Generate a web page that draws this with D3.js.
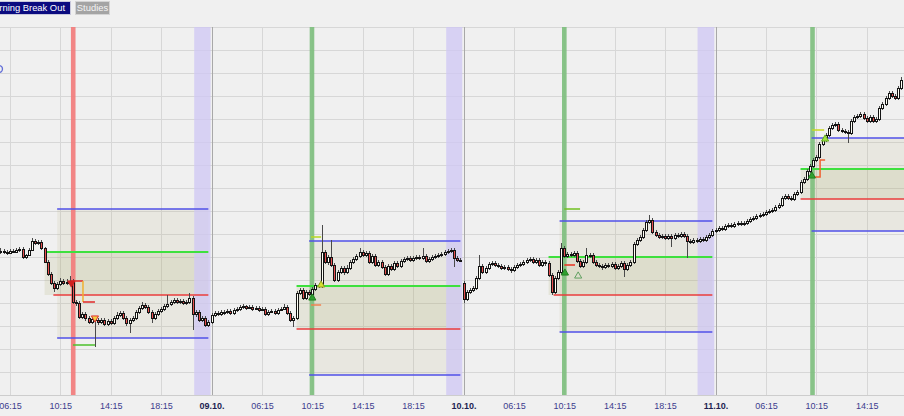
<!DOCTYPE html>
<html><head><meta charset="utf-8">
<script src="https://cdn.jsdelivr.net/npm/d3@7"></script>
<style>
html,body{margin:0;padding:0;background:#f0f0f0;overflow:hidden}
svg{display:block}
</style></head><body>
<svg id="c" width="904" height="416"></svg>
<script>
// ---- candle data (15-minute bars), price units ----
const open=[
148,149,148,147,149,148,150,151,143,145,
150,159,157,158,152,138,126,117,112,116,
119,117,118,119,98,97,83,86,82,78,
81,80,78,80,76,79,77,82,85,87,
82,77,80,82,88,92,95,93,88,82,
86,89,91,94,96,98,100,98,99,97,
98,102,86,88,80,82,75,78,85,87,
86,88,88,89,87,90,91,93,94,92,
93,91,92,90,91,86,88,89,87,90,
91,93,87,80,82,107,110,102,108,106,
111,115,114,148,138,143,135,120,128,132,
128,132,138,141,144,148,145,147,138,144,
135,138,133,126,134,131,137,134,139,141,
142,140,142,143,142,144,139,141,143,144,
145,146,148,149,150,142,140,117,101,108,
110,112,122,134,128,132,136,137,135,134,
132,133,131,130,133,135,136,138,140,141,
138,140,135,138,137,125,108,122,128,152,
144,146,145,147,139,134,138,145,145,138,
135,134,133,135,134,136,132,134,137,131,
135,138,156,160,163,170,178,180,168,165,
163,164,162,164,162,165,164,166,164,159,
158,160,159,161,160,163,165,169,170,172,
171,174,175,174,176,177,176,177,179,181,
182,184,185,186,188,189,190,193,195,202,
204,202,201,206,208,218,221,229,234,240,
243,256,260,265,272,275,276,270,269,268,
267,279,283,284,286,282,279,283,279,281,
292,296,302,307,304,302,312];
const close=[
149,148,147,149,148,150,151,143,145,150,
159,157,158,152,138,126,117,112,116,119,
117,118,119,98,97,83,86,82,78,81,
80,78,80,76,79,77,82,85,87,82,
77,80,82,88,92,95,93,88,82,86,
89,91,94,96,98,100,98,99,97,98,
102,86,88,80,82,75,78,85,87,86,
88,88,89,87,90,91,93,94,92,93,
91,92,90,91,86,88,89,87,90,91,
93,87,80,82,107,110,102,108,106,111,
115,114,148,138,143,135,120,128,132,128,
132,138,141,144,148,145,147,138,144,135,
138,133,126,134,131,137,134,139,141,142,
140,142,143,142,144,139,141,143,144,145,
146,148,149,150,142,140,140,101,108,110,
112,122,134,128,132,136,137,135,134,132,
133,131,130,133,135,136,138,140,141,138,
140,135,138,137,125,108,122,128,152,144,
146,145,147,139,134,138,145,145,138,135,
134,133,135,134,136,132,134,137,131,135,
138,156,160,163,170,178,180,168,165,163,
164,162,164,162,165,164,166,164,159,158,
160,159,161,160,163,165,169,170,172,171,
174,175,174,176,177,176,177,179,181,182,
184,185,186,188,189,190,193,195,202,204,
202,201,206,208,218,221,229,234,240,243,
256,260,265,272,275,276,270,269,268,267,
279,283,284,286,282,279,283,279,281,292,
296,302,307,304,302,312,320];
const high=[
152,151,150,151,151,152,153,153,146,152,
162,161,160,160,153,140,128,119,118,122,
121,121,124,121,100,99,88,88,84,83,
84,82,82,82,81,81,84,88,89,89,
84,82,84,90,94,98,97,95,90,88,
91,93,96,105,100,102,102,101,101,100,
107,104,90,90,84,84,80,87,89,89,
90,90,91,91,92,93,95,96,95,95,
95,94,94,93,93,90,91,91,92,93,
96,95,89,84,109,112,112,110,110,113,
117,117,175,150,145,160,137,130,134,134,
135,140,143,146,152,150,149,149,146,146,
140,140,135,136,136,139,139,141,143,144,
144,144,145,145,152,146,143,145,146,147,
148,150,151,152,152,144,142,119,110,112,
114,124,145,136,134,138,139,139,137,136,
135,135,133,135,137,138,140,142,143,143,
142,142,140,140,139,127,124,130,157,154,
148,148,149,149,141,140,152,147,147,140,
137,136,137,137,138,138,136,139,139,137,
140,158,162,165,172,180,185,182,170,167,
166,166,166,166,167,167,168,168,166,161,
162,162,163,163,165,167,171,172,174,174,
176,177,177,178,179,179,179,181,183,184,
186,187,188,190,191,192,195,197,204,206,
206,204,208,210,220,223,231,236,242,245,
258,262,267,274,277,278,278,272,271,270,
281,285,286,288,288,284,285,285,283,294,
298,304,309,309,306,314,323];
const low=[
146,146,145,146,147,147,148,141,141,144,
149,155,155,150,137,124,115,108,110,114,
115,115,116,96,94,81,81,79,76,76,
53,75,76,74,74,75,75,80,83,80,
74,67,78,80,86,90,91,86,77,80,
84,87,89,92,94,96,96,96,95,95,
96,70,83,78,78,73,73,76,83,84,
84,85,86,85,85,88,89,91,90,91,
89,90,88,89,84,84,87,85,85,89,
90,85,78,73,80,105,100,100,104,104,
109,112,112,136,135,133,118,118,126,125,
126,130,136,139,142,143,143,136,136,133,
133,131,124,124,129,129,132,132,137,139,
138,138,140,140,140,137,137,139,141,142,
143,144,146,147,133,138,138,97,99,106,
108,110,120,126,126,130,134,133,132,130,
130,129,127,128,131,133,134,136,138,136,
136,133,133,134,123,105,106,120,126,142,
142,143,143,137,132,132,136,142,136,133,
132,130,131,132,132,130,130,132,123,129,
133,136,154,158,161,168,176,166,163,161,
161,160,160,153,160,162,162,162,142,156,
156,157,157,158,158,161,163,167,168,169,
169,172,172,172,174,174,174,175,177,179,
180,182,183,184,186,187,188,191,193,200,
200,199,199,204,206,216,219,227,232,238,
241,254,258,263,270,273,268,267,266,257,
265,277,281,282,280,277,277,277,277,279,
290,294,300,302,300,300,310];

// ---- time axis ticks (bar index) ----
const tickIndex=[3,19,35,51,67,83,99,115,131,147,163,179,195,211,227,243,259,275];
const tickLabels=["06:15","10:15","14:15","18:15","09.10.","06:15","10:15","14:15","18:15","10.10.","06:15","10:15","14:15","18:15","11.10.","06:15","10:15","14:15"];
const dayTicks=[67,147,227];
const gridPrices=[373,350,327,304,281,258,235,212,189,166,143,120,97,74,51,28];

// ---- Morning Break Out boxes ----
const boxDarkStart=[14,94,174,254];
const boxRedStart=[16.8,94,175.6,254];
const boxRangeStart=[18,98,177.5,257.5];
const boxEnd=[66,146,226,287];
const rangeHigh=[191,159,179,262];
const breakHigh=[148,114,143,231];
const breakLow=[105,71,105,201];
const rangeLow=[62,25,68,169];

// ---- signal and session bands ----
const signalIndex=[23.1,98.9,179,257.8];
const signalColor=["#f27c7c","#7fbf7f","#7fbf7f","#7fbf7f"];
const sessionEndFrom=[61.5,141.5,221.3];
const sessionEndTo=[66.7,146.6,226.6];

// ---- order markers (bar index, price) ----
const markerPaths=[
 {pts:[[22.4,119],[26.2,119]],c:"#e02828"},
 {pts:[[26.2,119],[26.2,98]],c:"#f0b030"},
 {pts:[[26.2,98],[30,98]],c:"#e02828"},
 {pts:[[23,55],[30,55]],c:"#4cc02c"},
 {pts:[[98.6,163],[101.8,163]],c:"#b8d820"},
 {pts:[[98.6,95],[101.8,95]],c:"#f08050"},
 {pts:[[179,191],[184,191]],c:"#70c020"},
 {pts:[[179,135],[182.4,135]],c:"#e83020"},
 {pts:[[257.6,270],[261.5,270]],c:"#c8d820"},
 {pts:[[257.6,223],[260.2,223],[260.2,240],[261.8,240]],c:"#f06030"}
];
const markerTri=[
 {i:22.5,p:117,c:"#d02020",f:"#d02020",down:true},
 {i:30,p:82,c:"#e03030",f:"#f0d040",down:true},
 {i:99,p:102,c:"#208020",f:"#30a030",down:false},
 {i:101.8,p:115,c:"#90a020",f:"#d8e030",down:false},
 {i:179.2,p:127,c:"#208020",f:"#30a030",down:false},
 {i:183.4,p:124,c:"#60a060",f:"none",down:false},
 {i:257.6,p:224,c:"#208020",f:"#30a030",down:false},
 {i:261.8,p:261,c:"#60b020",f:"#a0e040",down:false}
];

const W=904,H=416,plotTop=27,plotBottom=395;
const svg=d3.select("#c");
const x=d3.scaleLinear().domain([0,286]).range([0.45,901.35]);
const y=d3.scaleLinear().domain([0,400]).range([400,0]);
const cx=i=>Math.round(x(i));

// background
svg.append("rect").attr("width",W).attr("height",H).attr("fill","#f0f0f0");

// grid
const grid=svg.append("g");
grid.selectAll("line.h").data(gridPrices).join("line")
 .attr("x1",0).attr("x2",W).attr("y1",d=>y(d)+0.5).attr("y2",d=>y(d)+0.5)
 .attr("stroke","#d7d7d7");
grid.selectAll("line.v").data(tickIndex).join("line")
 .attr("x1",d=>cx(d)+0.5).attr("x2",d=>cx(d)+0.5).attr("y1",plotTop).attr("y2",plotBottom)
 .attr("stroke",d=>dayTicks.includes(d)?"#a8a8a8":"#d7d7d7");

// boxes
const boxes=svg.append("g");
boxDarkStart.forEach((s,k)=>{
  boxes.append("rect").attr("x",x(boxRangeStart[k])).attr("width",x(boxEnd[k])-x(boxRangeStart[k]))
   .attr("y",y(rangeHigh[k])).attr("height",y(rangeLow[k])-y(rangeHigh[k]))
   .attr("fill","rgb(170,165,100)").attr("fill-opacity",0.11);
  boxes.append("rect").attr("x",x(s)).attr("width",x(boxEnd[k])-x(s))
   .attr("y",y(breakHigh[k])).attr("height",y(breakLow[k])-y(breakHigh[k]))
   .attr("fill","rgb(170,165,100)").attr("fill-opacity",0.16);
});

// session end bands
svg.append("g").selectAll("rect").data(sessionEndFrom).join("rect")
 .attr("x",d=>x(d)).attr("width",(d,k)=>x(sessionEndTo[k])-x(d))
 .attr("y",plotTop).attr("height",plotBottom-plotTop).attr("fill","#cfc8f4").attr("fill-opacity",0.78);
// signal bands
svg.append("g").selectAll("rect").data(signalIndex).join("rect")
 .attr("x",d=>x(d)-2.3).attr("width",4.6)
 .attr("y",plotTop).attr("height",plotBottom-plotTop).attr("fill",(d,k)=>signalColor[k]).attr("fill-opacity",0.92);

// box lines
const bl=svg.append("g");
boxDarkStart.forEach((s,k)=>{
  const e=x(boxEnd[k]);
  bl.append("line").attr("x1",x(boxRangeStart[k])).attr("x2",e).attr("y1",y(rangeHigh[k])).attr("y2",y(rangeHigh[k])).attr("stroke","#5050e8").attr("stroke-width",1.4);
  bl.append("line").attr("x1",x(boxRangeStart[k])).attr("x2",e).attr("y1",y(rangeLow[k])).attr("y2",y(rangeLow[k])).attr("stroke","#5050e8").attr("stroke-width",1.4);
  bl.append("line").attr("x1",x(s)).attr("x2",e).attr("y1",y(breakHigh[k])).attr("y2",y(breakHigh[k])).attr("stroke","#3ee03e").attr("stroke-width",1.8);
  bl.append("line").attr("x1",x(boxRedStart[k])).attr("x2",e).attr("y1",y(breakLow[k])).attr("y2",y(breakLow[k])).attr("stroke","#ea3c3c").attr("stroke-width",1.6);
});

// candles
const data=open.map((o,i)=>({i,o,c:close[i],h:high[i],l:low[i]}));
const cg=svg.append("g");
cg.selectAll("line").data(data).join("line")
 .attr("x1",d=>cx(d.i)+0.5).attr("x2",d=>cx(d.i)+0.5)
 .attr("y1",d=>y(d.h)).attr("y2",d=>y(d.l))
 .attr("stroke","#4a4a4a").attr("stroke-width",1);
cg.selectAll("rect").data(data).join("rect")
 .attr("x",d=>cx(d.i)-0.5).attr("width",2)
 .attr("y",d=>y(Math.max(d.o,d.c))+0.5)
 .attr("height",d=>Math.max(1,Math.abs(d.o-d.c)))
 .attr("fill",d=>d.c>=d.o?"#fffff6":"#e85050")
 .attr("stroke","#141414").attr("stroke-width",1);

// markers
const mg=svg.append("g");
const line=d3.line().x(d=>x(d[0])).y(d=>y(d[1]));
mg.selectAll("path.m").data(markerPaths).join("path")
 .attr("d",d=>line(d.pts)).attr("fill","none").attr("stroke",d=>d.c).attr("stroke-width",1.5);
const tri=d3.symbol().type(d3.symbolTriangle).size(22);
mg.selectAll("path.t").data(markerTri).join("path")
 .attr("d",tri)
 .attr("transform",d=>`translate(${x(d.i)},${y(d.p)}) rotate(${d.down?180:0})`)
 .attr("fill",d=>d.f).attr("stroke",d=>d.c).attr("stroke-width",1);

// axis
svg.append("line").attr("x1",0).attr("x2",W).attr("y1",plotBottom+0.5).attr("y2",plotBottom+0.5).attr("stroke","#cdcdcd");
const ax=svg.append("g").attr("transform",`translate(0,${plotBottom})`)
 .call(d3.axisBottom(x).tickValues(tickIndex).tickFormat((d,k)=>tickLabels[k]).tickSize(0).tickPadding(8));
ax.select(".domain").remove();
ax.selectAll("text")
 .attr("font-family","'Liberation Sans',Arial,sans-serif").attr("font-size","9px")
 .attr("fill",d=>dayTicks.includes(d)?"#1e1e52":"#3c3c8e")
 .attr("font-weight",d=>dayTicks.includes(d)?"bold":"normal");

// header buttons (the first button is scrolled past the left edge)
const hd=svg.append("g");
hd.append("rect").attr("x",-3).attr("y",1.5).attr("width",73.5).attr("height",13).attr("fill","#0b0b80").attr("stroke","#c8c8dc");
hd.append("text").attr("x",65).attr("y",11.3).attr("text-anchor","end")
 .attr("font-family","'Liberation Sans',Arial,sans-serif").attr("font-size","9.4px").attr("fill","#ffffff").text("rning Break Out");
hd.append("rect").attr("x",75.5).attr("y",1.5).attr("width",34).attr("height",13).attr("fill","#a4a4a4").attr("stroke","#d4d4d4");
hd.append("text").attr("x",92.5).attr("y",11.3).attr("text-anchor","middle")
 .attr("font-family","'Liberation Sans',Arial,sans-serif").attr("font-size","9.4px").attr("fill","#f4f4f4").text("Studies");
hd.append("circle").attr("cx",-1).attr("cy",69).attr("r",3.5).attr("fill","none").attr("stroke","#6470d8").attr("stroke-width",1.3);
</script>
</body></html>
